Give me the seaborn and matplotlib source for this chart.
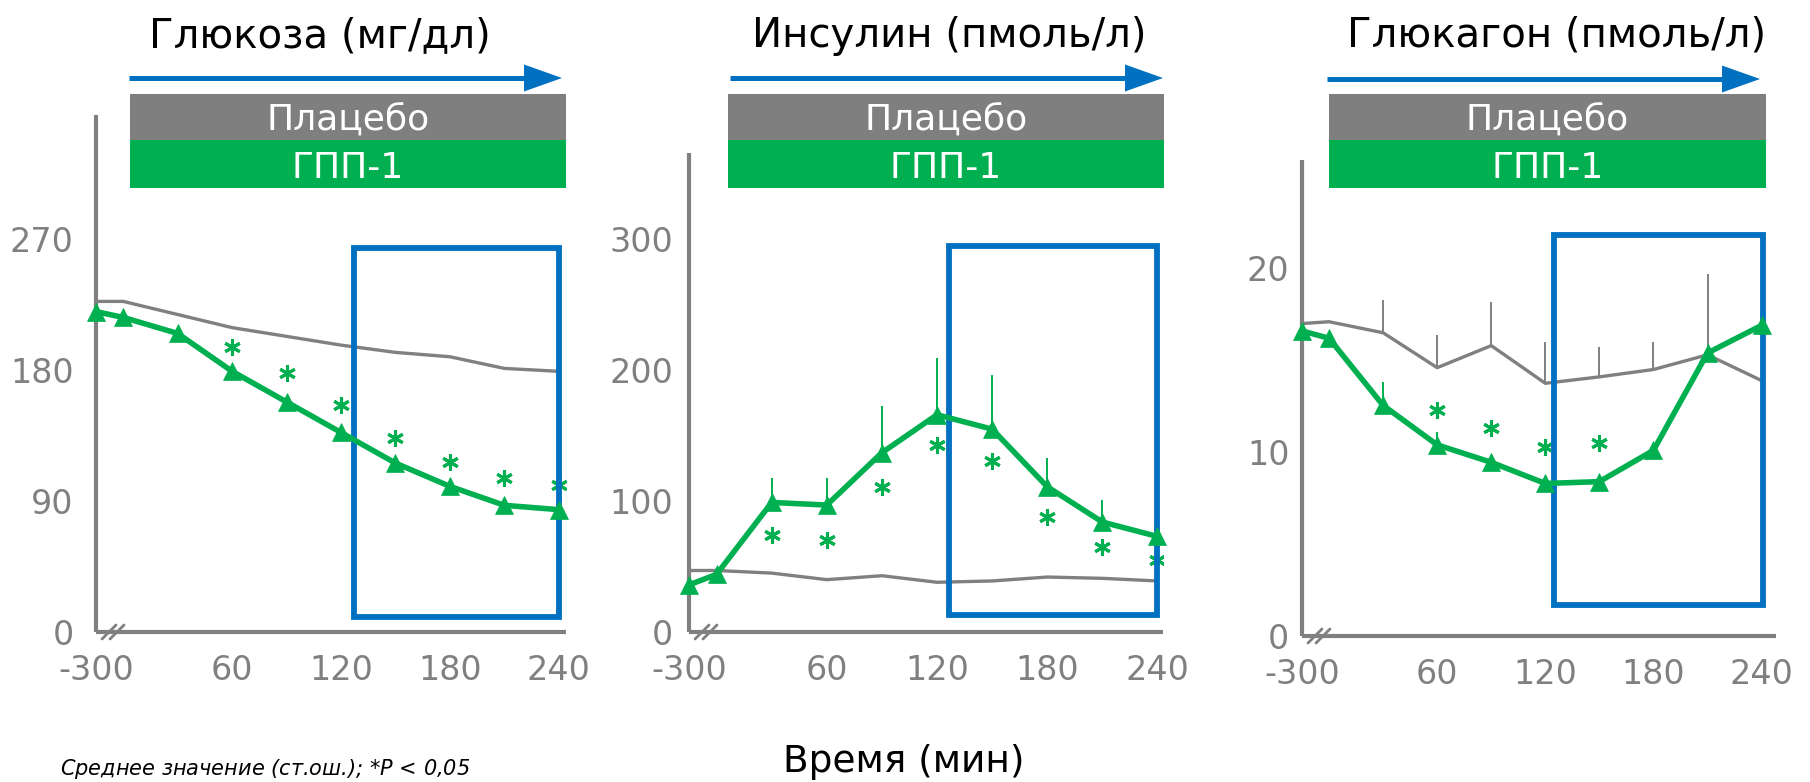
import numpy as np
import matplotlib
matplotlib.use("Agg")
import matplotlib.pyplot as plt
import seaborn as sns
from matplotlib.patches import Rectangle, Polygon
from matplotlib.lines import Line2D

# ---------------- data ----------------
times = [-300, 0, 30, 60, 90, 120, 150, 180, 210, 240]
x_tick_values = [-300, 60, 120, 180, 240]
x_tick_labels = ["-300", "60", "120", "180", "240"]

glucose_glp1 = [220, 216, 205, 179, 158, 137, 116, 100, 87, 84]
glucose_placebo = [227, 227, 218, 209, 203, 197, 192, 189, 181, 179]
glucose_stars = [np.nan, np.nan, np.nan, 196, 178, 156, 133, 117, 106, 101]
glucose_yticks = [0, 90, 180, 270]

insulin_glp1 = [36, 44, 99, 97, 137, 166, 155, 111, 84, 73]
insulin_glp1_sem = [0, 0, 19, 21, 36, 43, 41, 22, 17, 0]
insulin_placebo = [47, 47, 45, 40, 43, 38, 39, 42, 41, 39]
insulin_stars = [np.nan, np.nan, 74, 70, 111, 143, 131, 88, 65, 55]
insulin_yticks = [0, 100, 200, 300]

glucagon_glp1 = [16.6, 16.2, 12.55, 10.4, 9.45, 8.3, 8.4, 10.1, 15.4, 16.9]
glucagon_glp1_sem = [0, 0, 1.25, 0.7, 0, 0, 0, 0, 0, 0]
glucagon_placebo = [17.0, 17.1, 16.5, 14.6, 15.8, 13.75, 14.1, 14.5, 15.3, 13.9]
glucagon_placebo_sem = [0, 0, 1.8, 1.8, 2.4, 2.25, 1.6, 1.5, 4.4, 0]
glucagon_stars = [np.nan, np.nan, np.nan, 12.3, 11.3, 10.3, 10.5, np.nan, np.nan, np.nan]
glucagon_yticks = [0, 10, 20]

titles = ["Глюкоза (мг/дл)", "Инсулин (пмоль/л)", "Глюкагон (пмоль/л)"]
placebo_label = "Плацебо"
glp1_label = "ГПП-1"
xlabel = "Время (мин)"
footnote = "Среднее значение (ст.ош.); *$\\it{P}$ < 0,05"

# ---------------- style ----------------
GREEN = "#00B050"
GRAY = "#808080"
BLUE = "#0070C0"
W, H = 1810, 782

sns.set_theme(style="white")
plt.rcParams["font.family"] = ["DejaVu Sans"]
plt.rcParams["mathtext.fontset"] = "dejavusans"

fig = plt.figure(figsize=(W / 100, H / 100), dpi=100)


def fx(px):
    return px / W


def fy(py):
    return 1 - py / H


XBREAK = -15


def xpos(t):
    return XBREAK if t < 0 else t


panels = [
    dict(rect=(96, 566, 115, 632), xmax=244, ymax=355, yticks=glucose_yticks, ypad=16,
         glp1=glucose_glp1, glp1_sem=None, placebo=glucose_placebo, placebo_sem=None,
         stars=glucose_stars, box=(127, 240, 10, 264),
         hx=(130, 566), ax_=(129, 562), arrow_y=78, title_x=320, title=titles[0]),
    dict(rect=(689, 1163, 153, 632), xmax=243, ymax=366, yticks=insulin_yticks, ypad=11.5,
         glp1=insulin_glp1, glp1_sem=insulin_glp1_sem, placebo=insulin_placebo, placebo_sem=None,
         stars=insulin_stars, box=(126.5, 240, 13, 295),
         hx=(728, 1164), ax_=(730, 1163), arrow_y=78, title_x=949, title=titles[1]),
    dict(rect=(1302, 1776, 160, 636), xmax=248, ymax=25.9, yticks=glucagon_yticks, ypad=9,
         glp1=glucagon_glp1, glp1_sem=glucagon_glp1_sem, placebo=glucagon_placebo,
         placebo_sem=glucagon_placebo_sem,
         stars=glucagon_stars, box=(125, 241, 1.7, 21.8),
         hx=(1329, 1766), ax_=(1327, 1760), arrow_y=79, title_x=1557, title=titles[2]),
]

xs = [xpos(t) for t in times]

for p in panels:
    l, r, t, b = p["rect"]
    ax = fig.add_axes([fx(l), fy(b), (r - l) / W, (b - t) / H])
    ax.patch.set_alpha(0)

    # error bars (upper only)
    if p["placebo_sem"] is not None:
        for xv, yv, e in zip(xs, p["placebo"], p["placebo_sem"]):
            if e > 0:
                ax.vlines(xv, yv, yv + e, color=GRAY, lw=1.4, zorder=2)
    if p["glp1_sem"] is not None:
        for xv, yv, e in zip(xs, p["glp1"], p["glp1_sem"]):
            if e > 0:
                ax.vlines(xv, yv, yv + e, color=GREEN, lw=1.4, zorder=2)

    sns.lineplot(x=xs, y=p["placebo"], ax=ax, color=GRAY, lw=2.4, zorder=3)
    ax.plot(xs, p["stars"], linestyle="none", marker=(6, 2, 0), ms=12, mew=2.2,
            color=GREEN, zorder=3)

    bx0, bx1, by0, by1 = p["box"]
    ax.add_patch(Rectangle((bx0, by0), bx1 - bx0, by1 - by0, fill=False,
                           edgecolor=BLUE, lw=4.2, joinstyle="miter", zorder=4,
                           clip_on=False))

    sns.lineplot(x=xs, y=p["glp1"], ax=ax, color=GREEN, lw=4, marker="^",
                 markersize=13, markeredgecolor=GREEN, markeredgewidth=0.5,
                 zorder=5, clip_on=False)

    ax.set_xlim(XBREAK, p["xmax"])
    ax.set_ylim(0, p["ymax"])
    ax.set_xticks([xpos(v) for v in x_tick_values])
    ax.set_xticklabels(x_tick_labels)
    ax.set_yticks(p["yticks"])
    ax.set_yticklabels([str(v) for v in p["yticks"]])
    ax.tick_params(axis="x", length=0, pad=16, labelsize=24, labelcolor=GRAY)
    ax.tick_params(axis="y", length=0, pad=p["ypad"], labelsize=24, labelcolor=GRAY)
    ax.set_xlabel("")
    ax.set_ylabel("")
    ax.grid(False)
    for s in ["top", "right"]:
        ax.spines[s].set_visible(False)
    for s in ["left", "bottom"]:
        ax.spines[s].set_color(GRAY)
        ax.spines[s].set_linewidth(3)
        ax.spines[s].set_capstyle("butt")

    # axis-break marks
    for k in range(2):
        cx = l + 13 + 8 * k
        fig.add_artist(Line2D([fx(cx - 7), fx(cx + 7)], [fy(b + 7), fy(b - 7)],
                              color=GRAY, lw=2, transform=fig.transFigure))

    # header: arrow
    a0, a1 = p["ax_"]
    ay = p["arrow_y"]
    head_len, head_half = 38, 13.5
    fig.add_artist(Line2D([fx(a0), fx(a1 - head_len + 2)], [fy(ay), fy(ay)], color=BLUE,
                          lw=3.6, solid_capstyle="butt", transform=fig.transFigure))
    fig.add_artist(Polygon([(fx(a1 - head_len), fy(ay - head_half)), (fx(a1), fy(ay)),
                            (fx(a1 - head_len), fy(ay + head_half))], closed=True,
                           facecolor=BLUE, edgecolor="none", transform=fig.transFigure))

    # header: bars
    h0, h1 = p["hx"]
    fig.add_artist(Rectangle((fx(h0), fy(140)), fx(h1) - fx(h0), fy(94) - fy(140),
                             facecolor="#7F7F7F", edgecolor="none", transform=fig.transFigure))
    fig.add_artist(Rectangle((fx(h0), fy(188)), fx(h1) - fx(h0), fy(140) - fy(188),
                             facecolor=GREEN, edgecolor="none", transform=fig.transFigure))
    hc = (h0 + h1) / 2
    fig.text(fx(hc), fy(130), placebo_label, ha="center", va="baseline",
             color="white", fontsize=26)
    fig.text(fx(hc), fy(178), glp1_label, ha="center", va="baseline",
             color="white", fontsize=26)

    # title
    fig.text(fx(p["title_x"]), fy(47), p["title"], ha="center", va="baseline",
             color="black", fontsize=29)

fig.text(fx(904), fy(772), xlabel, ha="center", va="baseline", color="black", fontsize=27)
fig.text(fx(60), fy(775), footnote, ha="left", va="baseline", color="black",
         fontsize=15, style="italic")

fig.savefig("out.png", dpi=100)
